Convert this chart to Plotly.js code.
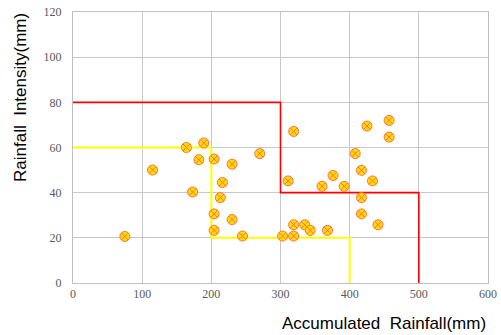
<!DOCTYPE html>
<html><head><meta charset="utf-8">
<script src="https://cdn.plot.ly/plotly-3.0.1.min.js"></script>
<style>html,body{margin:0;padding:0;background:#fff}#chart{width:501px;height:335px}</style>
</head><body><div id="chart"></div>
<script>
const accumulated = [75,115,164,189,182,173,204,230,216,213,204,230,204,245,270,303,319,319,319,311,335,343,368,360,376,392,408,417,417,417,433,441,425,457,457];
const intensity   = [20.6,50,60,62,54.6,40.3,54.9,52.6,44.5,37.8,30.6,28.1,23.3,20.8,57.3,20.8,20.8,25.8,67.1,45.2,25.8,23.3,23.3,42.8,47.6,42.8,57.3,49.9,37.8,30.6,45.2,25.8,69.5,72,64.6];
const redX = [0,300,300,500,500];
const redY = [80,80,40,40,0];
const yellowX = [0,200,200,400,400];
const yellowY = [60,60,20,20,0];
const xTicks = [0,100,200,300,400,500,600];
const yTicks = [0,20,40,60,80,100,120];

const traces = [
  {x: yellowX, y: yellowY, mode:'lines', line:{color:'#FFFF00', width:2}, hoverinfo:'skip'},
  {x: redX, y: redY, mode:'lines', line:{color:'#FF0000', width:1.6}, hoverinfo:'skip'},
  {x: accumulated, y: intensity, mode:'markers', type:'scatter',
   marker:{symbol:'circle-x', size:10, color:'#FFDD00', line:{color:'#FF7040', width:1}}}
];
const tickFont = {family:'Liberation Serif', size:12, color:'#595959'};
const titleFont = {family:'Liberation Sans', size:17, color:'#000'};
const layout = {
  width:501, height:335, showlegend:false,
  margin:{l:73, r:13, t:12, b:52},
  paper_bgcolor:'#fff', plot_bgcolor:'#fff',
  xaxis:{range:[0,600], tickvals:xTicks, ticktext:xTicks.map(String), showgrid:true, gridcolor:'#C8C8C8', gridwidth:1,
    zeroline:false, showline:true, linecolor:'#BFBFBF', mirror:true, ticks:'', tickfont:tickFont, fixedrange:true},
  yaxis:{range:[0,120], tickvals:yTicks, ticktext:yTicks.map(String), showgrid:true, gridcolor:'#C8C8C8', gridwidth:1,
    zeroline:false, showline:true, linecolor:'#BFBFBF', mirror:true, ticks:'', tickfont:tickFont, ticklabelstandoff:8, fixedrange:true},
  annotations:[
    {text:'Accumulated  Rainfall(mm)', xref:'paper', yref:'paper', x:1.0, y:-0.148, xanchor:'right', yanchor:'middle',
     showarrow:false, font:titleFont},
    {text:'Rainfall  Intensity(mm)', xref:'paper', yref:'paper', x:-0.128, y:0.686, xanchor:'center', yanchor:'middle', textangle:-90,
     showarrow:false, font:titleFont}
  ]
};
Plotly.newPlot('chart', traces, layout, {displayModeBar:false, staticPlot:true});
</script></body></html>
